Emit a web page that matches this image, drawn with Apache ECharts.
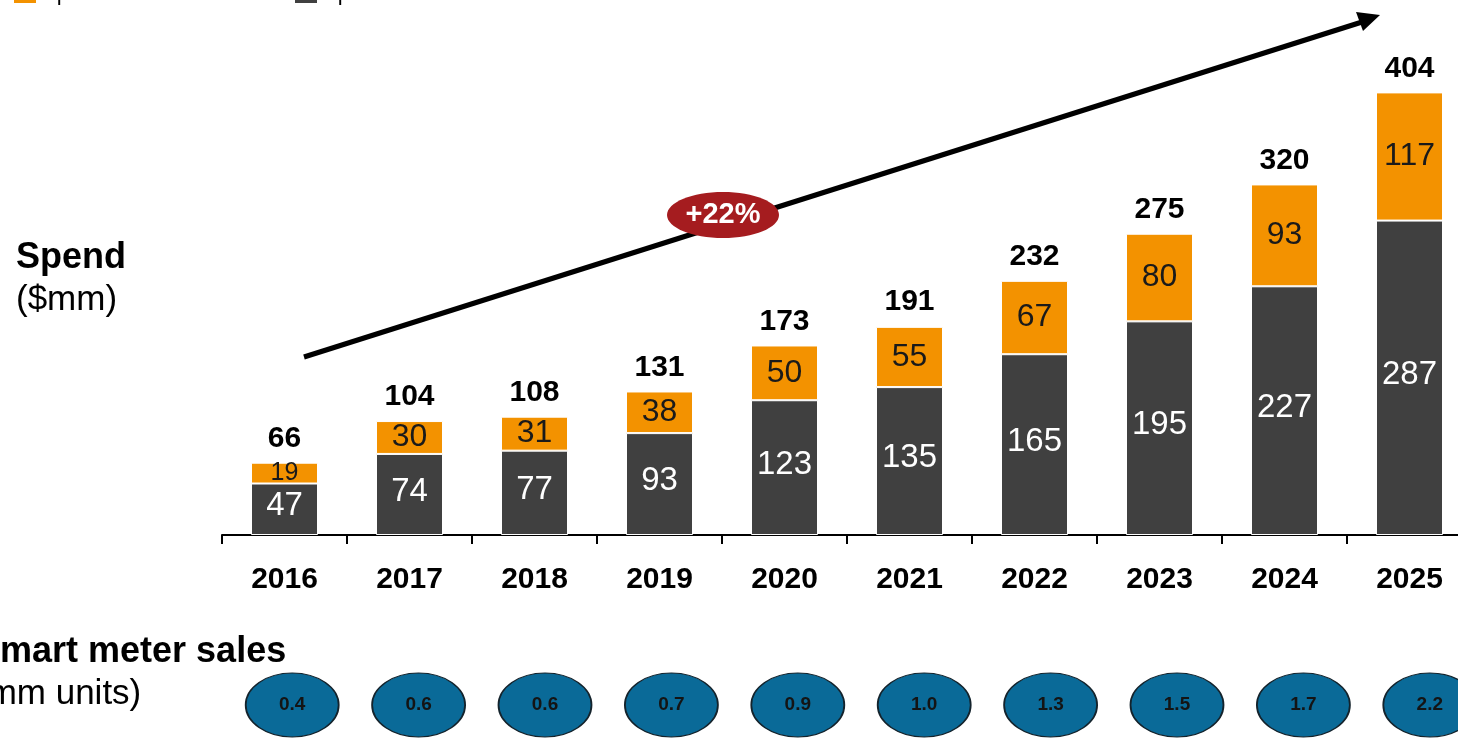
<!DOCTYPE html>
<html lang="en">
<head>
    <meta charset="UTF-8">
    <title>Spend and smart meter sales</title>
    <style>
        html, body { margin: 0; padding: 0; background: #fff; }
        #chart { width: 1458px; height: 740px; }
    </style>
</head>
<body>
    <div id="chart"></div>
    <script src="https://cdn.jsdelivr.net/npm/echarts@6/dist/echarts.min.js"></script>
    <script>
        // data
        var years = ['2016', '2017', '2018', '2019', '2020', '2021', '2022', '2023', '2024', '2025'];
        var baseSpend = [47, 74, 77, 93, 123, 135, 165, 195, 227, 287];
        var topSpend = [19, 30, 31, 38, 50, 55, 67, 80, 93, 117];
        var totals = [66, 104, 108, 131, 173, 191, 232, 275, 320, 404];
        var meterSales = [0.4, 0.6, 0.6, 0.7, 0.9, 1.0, 1.3, 1.5, 1.7, 2.2];

        var font = 'Liberation Sans, Arial, sans-serif';
        var chart = echarts.init(document.getElementById('chart'));

        var legendText = { fontSize: 22, color: '#000', fontFamily: font };

        var option = {
            animation: false,
            textStyle: { fontFamily: font },
            legend: [
                {
                    top: -17, left: 12, padding: 0,
                    itemWidth: 24, itemHeight: 20, icon: 'rect',
                    textStyle: legendText,
                    data: ['Spend on services']
                },
                {
                    top: -17, left: 293, padding: 0,
                    itemWidth: 24, itemHeight: 20, icon: 'rect',
                    textStyle: legendText,
                    data: ['Spend on hardware']
                }
            ],
            grid: [
                { left: 222, width: 1250, top: 42, bottom: 205, outerBoundsMode: 'none' },
                { left: 229, width: 1264, top: 672, height: 66, outerBoundsMode: 'none' }
            ],
            xAxis: [
                {
                    type: 'category', gridIndex: 0, data: years,
                    axisLine: { lineStyle: { color: '#000', width: 2 } },
                    axisTick: { show: true, length: 9, lineStyle: { color: '#000', width: 2 } },
                    axisLabel: { fontSize: 30, fontWeight: 'bold', color: '#000', margin: 30, fontFamily: font }
                },
                {
                    type: 'category', gridIndex: 1, data: years,
                    axisLine: { show: false }, axisTick: { show: false }, axisLabel: { show: false }
                }
            ],
            yAxis: [
                {
                    type: 'value', gridIndex: 0, min: 0, max: 450,
                    show: false, splitLine: { show: false }
                },
                {
                    type: 'category', gridIndex: 1, data: ['units'],
                    show: false
                }
            ],
            series: [
                {
                    name: 'Spend on hardware',
                    type: 'bar', stack: 'spend', barWidth: 67,
                    data: baseSpend,
                    itemStyle: { color: '#404040', borderColor: '#fff', borderWidth: 1 },
                    label: {
                        show: true, position: 'inside', color: '#fff',
                        fontSize: 33, fontFamily: font, offset: [0, -3]
                    }
                },
                {
                    name: 'Spend on services',
                    type: 'bar', stack: 'spend', barWidth: 67,
                    data: topSpend.map(function (v, i) {
                        return i === 0 ? { value: v, label: { fontSize: 25 } } : v;
                    }),
                    itemStyle: { color: '#F39200', borderColor: '#fff', borderWidth: 1 },
                    label: {
                        show: true, position: 'inside', color: '#1a1a1a',
                        fontSize: 32, fontFamily: font
                    }
                },
                {
                    name: 'total',
                    type: 'scatter',
                    data: totals,
                    symbolSize: 0,
                    silent: true,
                    itemStyle: { opacity: 1 },
                    label: {
                        show: true, position: 'top', distance: 9,
                        color: '#000', fontSize: 30, fontWeight: 'bold', fontFamily: font
                    }
                },
                {
                    name: 'sales',
                    type: 'scatter',
                    xAxisIndex: 1, yAxisIndex: 1,
                    data: meterSales.map(function (v, i) { return [years[i], 'units', v]; }),
                    symbol: 'circle',
                    symbolSize: [93, 64],
                    itemStyle: { color: '#0A6A98', borderColor: '#14232c', borderWidth: 1.5, opacity: 1 },
                    label: {
                        show: true, position: 'inside', color: '#141414',
                        fontSize: 19, fontWeight: 'bold', fontFamily: font,
                        formatter: function (p) { return p.value[2].toFixed(1); }
                    }
                }
            ],
            graphic: [
                { type: 'text', left: 16, top: 240, style: { text: 'Spend', font: 'bold 36px ' + font, fill: '#000' } },
                { type: 'text', left: 16, top: 283, style: { text: '($mm)', font: '35px ' + font, fill: '#000' } },
                { type: 'text', left: -24, top: 634, style: { text: 'Smart meter sales', font: 'bold 36px ' + font, fill: '#000' } },
                { type: 'text', left: -24, top: 677, style: { text: '(mm units)', font: '35px ' + font, fill: '#000' } },
                // growth arrow
                {
                    type: 'line', z: 50,
                    shape: { x1: 304, y1: 357, x2: 1362, y2: 22 },
                    style: { stroke: '#000', lineWidth: 5 }
                },
                {
                    type: 'polygon', z: 50,
                    shape: { points: [[1380, 15], [1356, 12], [1363, 31]] },
                    style: { fill: '#000' }
                },
                {
                    type: 'ellipse', z: 60,
                    shape: { cx: 723, cy: 215, rx: 56, ry: 23 },
                    style: { fill: '#A51C1F' }
                },
                {
                    type: 'text', z: 61, x: 723, y: 215,
                    style: {
                        text: '+22%', font: 'bold 29px ' + font, fill: '#fff',
                        align: 'center', verticalAlign: 'middle'
                    }
                }
            ]
        };
        chart.setOption(option);
    </script>
</body>
</html>
